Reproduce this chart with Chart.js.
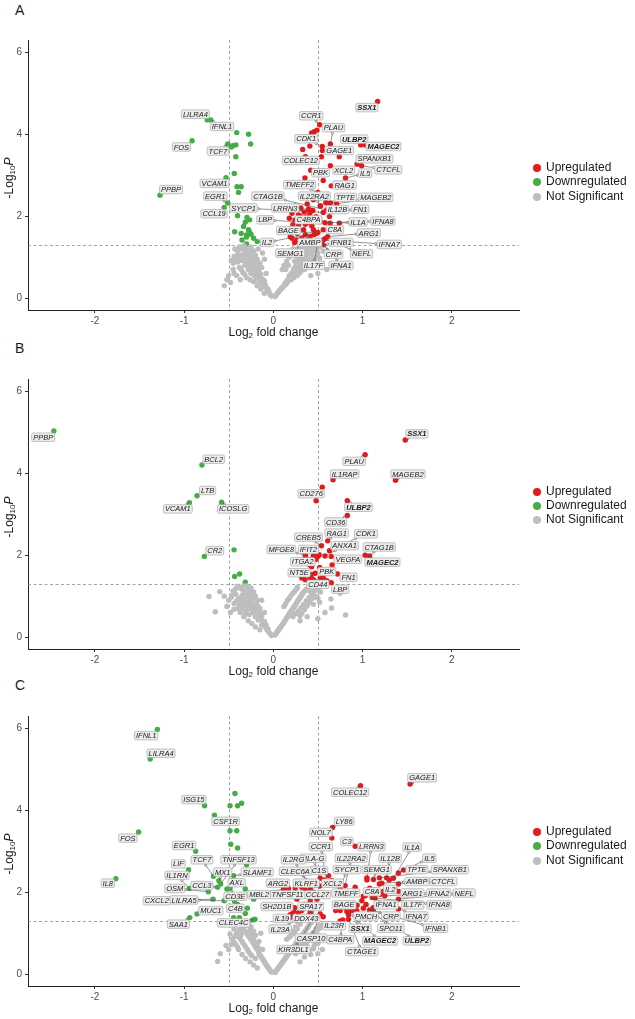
<!DOCTYPE html>
<html>
<head>
<meta charset="utf-8">
<script src="https://cdn.jsdelivr.net/npm/chart.js@4.4.1/dist/chart.umd.min.js"></script>
<style>
  body { margin: 0; background: #fff; width: 635px; height: 1019px; position: relative; overflow: hidden;
         font-family: "Liberation Sans", Arial, sans-serif; color: #1a1a1a; }
  canvas { position: absolute; left: 0; }
  .tag { position: absolute; left: 15px; font-size: 14px; line-height: 14px; }
  .leg { position: absolute; left: 533px; font-size: 12px; line-height: 14px; white-space: nowrap; }
  .leg span { display: inline-block; width: 8px; height: 8px; border-radius: 50%; margin-right: 5px; vertical-align: -1px; }
</style>
</head>
<body>
<div class="tag" style="top:3px">A</div>
<div class="tag" style="top:341px">B</div>
<div class="tag" style="top:678px">C</div>
<canvas id="chartA" width="635" height="339" style="top:0px"></canvas>
<canvas id="chartB" width="635" height="340" style="top:339px"></canvas>
<canvas id="chartC" width="635" height="343" style="top:676px"></canvas>
<script>
// axis / thresholds
const xTicks = [-2, -1, 0, 1, 2];
const yTicks = [0, 2, 4, 6];
const fcCut = 0.5;
const pCut = 1.301;   // -log10(0.05)
const boldGenes = ['SSX1', 'ULBP2', 'MAGEC2'];
const legendNames = ['Upregulated', 'Downregulated', 'Not Significant'];
const RED = '#e31a1c', GREEN = '#45ad45', GREY = '#bebebe';

// ---------- panel A : [log2FC, -log10 P] ----------
const aUpGenes = ['SSX1','CCR1','PLAU','CDK1','ULBP2','MAGEC2','GAGE1','COLEC12','SPANXB1','CTCFL',
  'XCL2','IL5','PBK','RAG1','TMEFF2','IL22RA2','TPTE','MAGEB2','IL12B','FN1',
  'IL1A','IFNA8','C4BPA','C8A','ARG1','IFNA7','BAGE','AMBP','IFNB1','SEMG1',
  'CRP','NEFL','IL17F','IFNA1','CTAG1B','LRRN3','SYCP1','LBP','IL2'];
const aUp = [[1.17,4.80],[0.52,4.23],[0.64,3.76],[0.55,3.70],[0.98,3.74],[1.03,3.74],[0.55,3.60],[0.54,3.45],[0.94,3.27],[0.99,3.23],
  [0.64,3.23],[0.81,2.93],[0.56,2.87],[0.65,2.74],[0.50,2.58],[0.53,2.25],[0.64,2.32],[0.71,2.30],[0.59,2.33],[0.66,2.12],
  [0.74,1.83],[0.58,1.84],[0.41,2.07],[0.56,1.67],[0.61,1.50],[0.56,1.42],[0.49,1.59],[0.51,1.38],[0.56,1.30],[0.38,1.42],
  [0.52,1.35],[0.58,1.45],[0.50,1.33],[0.54,1.38],[0.60,2.15],[0.40,2.17],[0.56,2.09],[0.41,1.84],[0.50,1.60]];
const aUpOther = [[0.41,3.71],[0.33,3.63],[0.36,3.45],[0.42,3.12],[0.43,4.03],[0.46,4.06],[0.49,4.10],[0.74,3.45],[0.355,2.93],[0.31,2.52],
  [0.347,2.49],[0.594,2.33],[0.526,2.25],[0.395,2.17],[0.444,2.14],[0.347,2.10],[0.21,2.07],[0.283,2.03],[0.18,1.95],[0.243,1.91],
  [0.31,1.99],[0.37,1.98],[0.48,1.99],[0.526,1.87],[0.638,1.83],[0.22,1.79],[0.283,1.79],[0.433,1.76],[0.34,1.67],[0.45,1.67],
  [0.21,1.46],[0.265,1.42],[0.32,1.46],[0.414,1.50],[0.19,1.50],[0.63,1.99],[0.46,1.55],[0.30,1.38],[0.24,1.36],[0.35,1.33],
  [0.44,1.36],[0.27,1.58],[0.36,1.80],[0.40,1.95],[0.25,2.25],[0.31,2.20],[0.38,2.30],[0.45,2.40],[0.42,2.78],[0.36,1.55]];
const aDownGenes = ['LILRA4','IFNL1','FOS','TCF7','VCAM1','PPBP','EGR1','CCL19'];
const aDown = [[-0.74,4.35],[-0.70,4.35],[-0.91,3.84],[-0.51,3.76],[-0.53,2.94],[-1.27,2.51],[-0.51,2.32],[-0.55,2.21]];
const aDownOther = [[-0.41,4.04],[-0.277,4.0],[-0.254,3.76],[-0.456,3.72],[-0.42,3.74],[-0.47,3.69],[-0.42,3.45],[-0.437,3.04],[-0.406,2.72],[-0.36,2.72],
  [-0.39,2.58],[-0.445,2.20],[-0.40,2.01],[-0.295,1.97],[-0.265,1.91],[-0.314,1.85],[-0.333,1.75],[-0.277,1.67],[-0.25,1.56],[-0.30,1.54],
  [-0.433,1.62],[-0.35,1.42],[-0.30,1.49],[-0.22,1.46],[-0.18,1.38],[-0.30,1.32],[-0.36,1.58],[-0.27,1.62]];
const aNotSig = [[-0.02,0.05],[-0.04,0.1],[-0.05,0.16],[-0.07,0.2],[-0.08,0.27],[-0.1,0.3],[-0.11,0.35],[-0.13,0.4],[-0.12,0.46],[-0.15,0.5],
  [-0.16,0.55],[-0.18,0.6],[-0.2,0.62],[-0.19,0.7],[-0.22,0.72],[-0.24,0.78],[-0.23,0.85],[-0.26,0.88],[-0.28,0.95],[-0.27,1.02],
  [-0.3,1.05],[-0.32,1.1],[-0.3,1.18],[-0.35,1.2],[-0.38,1.25],[-0.22,1.15],[-0.2,1.05],[-0.18,0.95],[-0.15,0.85],[-0.13,0.75],
  [-0.25,0.6],[-0.28,0.7],[-0.32,0.8],[-0.35,0.92],[-0.4,1.05],[-0.42,0.95],[-0.45,0.85],[-0.38,0.75],[-0.34,0.62],[-0.3,0.5],
  [-0.26,0.45],[-0.22,0.4],[-0.18,0.3],[-0.14,0.22],[-0.1,0.12],[-0.45,0.7],[-0.5,0.55],[-0.41,0.55],[-0.37,0.45],[-0.55,0.3],
  [-0.48,0.38],[-0.4,1.15],[-0.25,1.25],[-0.17,1.2],[-0.12,1.1],[-0.1,0.95],[-0.08,0.6],
  [-0.03,0.08],[-0.06,0.22],[-0.09,0.33],[-0.1,0.42],[-0.14,0.58],[-0.16,0.66],[-0.17,0.78],[-0.2,0.85],[-0.21,0.92],[-0.24,0.98],
  [-0.25,1.08],[-0.27,1.15],[-0.29,1.22],[-0.33,1.28],[-0.36,1.05],[-0.38,0.98],[-0.34,0.98],[-0.31,0.9],[-0.29,0.82],[-0.27,0.75],
  [-0.24,0.68],[-0.21,0.55],[-0.19,0.48],[-0.16,0.38],[-0.12,0.28],[-0.43,1.2],[-0.44,1.02],[-0.47,0.92],[-0.4,0.88],[-0.36,0.7],
  [-0.32,0.58],[-0.52,0.45],[-0.44,0.6],
  [0.02,0.04],[0.04,0.1],[0.06,0.15],[0.08,0.2],[0.1,0.25],[0.12,0.3],[0.13,0.36],[0.15,0.42],[0.17,0.48],[0.18,0.55],
  [0.2,0.6],[0.22,0.66],[0.23,0.72],[0.25,0.78],[0.27,0.84],[0.28,0.9],[0.3,0.96],[0.32,1.02],[0.34,1.08],[0.36,1.14],
  [0.38,1.2],[0.4,1.25],[0.25,0.6],[0.28,0.7],[0.3,0.75],[0.33,0.85],[0.36,0.92],[0.39,1.0],[0.42,1.08],[0.45,1.15],
  [0.48,1.22],[0.2,0.45],[0.23,0.5],[0.27,0.55],[0.3,0.62],[0.35,0.7],[0.4,0.8],[0.44,0.9],[0.48,1.0],[0.5,1.1],
  [0.52,1.25],[0.15,0.9],[0.18,1.0],[0.2,1.1],[0.22,1.2],[0.12,0.8],[0.1,0.7],[0.28,1.15],[0.3,1.25],[0.55,0.85],
  [0.5,0.6],[0.42,0.55],[0.6,0.7],
  [0.03,0.07],[0.05,0.13],[0.07,0.19],[0.09,0.24],[0.11,0.28],[0.14,0.33],[0.16,0.39],[0.19,0.5],[0.21,0.56],[0.24,0.62],
  [0.26,0.68],[0.29,0.8],[0.31,0.86],[0.33,0.93],[0.35,0.98],[0.37,1.05],[0.4,1.12],[0.43,1.18],[0.46,1.25],[0.32,0.68],
  [0.37,0.8],[0.41,0.92],[0.45,1.02],[0.47,0.85],[0.52,0.98],[0.25,1.05],[0.27,0.98],[0.17,0.8],[0.14,0.7],[0.35,1.2],
  [0.33,1.15],[0.24,0.9],[0.56,1.15]];

// ---------- panel B ----------
const bUpGenes = ['SSX1','PLAU','IL1RAP','MAGEB2','CD276','ULBP2','CD36','RAG1','CDK1','CREB5','ANXA1',
  'CTAG1B','MAGEC2','MFGE8','IFIT2','VEGFA','ITGA2','PBK','FN1','NT5E','CD44','LBP'];
const bUp = [[1.48,4.81],[1.03,4.45],[0.67,3.84],[1.37,3.83],[0.48,3.33],[0.83,3.33],[0.83,2.97],[0.61,2.35],[0.63,2.11],[0.54,2.23],[0.58,1.98],
  [1.08,1.98],[1.03,2.00],[0.36,2.00],[0.50,1.97],[0.65,1.97],[0.41,1.76],[0.66,1.76],[0.72,1.54],[0.47,1.56],[0.56,1.45],[0.65,1.33]];
const bUpOther = [[0.549,3.66],[0.515,2.01],[0.405,1.89],[0.44,1.80],[0.43,1.52],[0.526,1.44],[0.45,1.40],[0.32,1.44],[0.358,1.40],[0.405,1.38],
  [0.395,1.80],[0.43,1.72],[0.34,1.50],[0.414,1.44],[0.45,1.98],[0.52,1.70],[0.38,1.60],[0.48,1.90],[0.36,1.95],[0.55,1.55],
  [0.47,1.35],[0.60,1.38]];
const bDownGenes = ['PPBP','BCL2','LTB','VCAM1','ICOSLG','CR2'];
const bDown = [[-2.46,5.03],[-0.80,4.20],[-0.855,3.45],[-0.94,3.28],[-0.58,3.29],[-0.773,1.97]];
const bDownOther = [[-0.44,2.13],[-0.433,1.48],[-0.377,1.54],[-0.314,1.34]];
const bNotSig = [[-0.02,0.04],[-0.05,0.12],[-0.07,0.18],[-0.09,0.25],[-0.11,0.32],[-0.12,0.4],[-0.14,0.46],[-0.16,0.52],[-0.18,0.58],[-0.2,0.65],
  [-0.21,0.72],[-0.23,0.8],[-0.25,0.86],[-0.27,0.93],[-0.29,1.0],[-0.31,1.06],[-0.33,1.12],[-0.36,1.18],[-0.4,1.24],[-0.18,0.9],
  [-0.2,1.0],[-0.22,1.1],[-0.25,1.2],[-0.15,0.7],[-0.27,0.55],[-0.3,0.65],[-0.33,0.75],[-0.36,0.85],[-0.39,0.95],[-0.42,1.05],
  [-0.45,1.12],[-0.47,0.98],[-0.44,0.82],[-0.4,0.7],[-0.37,0.6],[-0.33,0.5],[-0.28,0.4],[-0.24,0.33],[-0.2,0.25],[-0.15,0.18],
  [-0.5,0.9],[-0.52,0.75],[-0.48,0.6],[-0.72,0.99],[-0.65,0.62],[-0.60,1.11],[-0.55,1.0],[-0.13,0.9],[-0.1,0.6],[-0.3,1.25],
  [-0.03,0.08],[-0.06,0.2],[-0.08,0.3],[-0.1,0.38],[-0.13,0.52],[-0.15,0.6],[-0.17,0.75],[-0.19,0.82],[-0.22,0.95],[-0.24,1.05],
  [-0.27,1.12],[-0.28,1.2],[-0.34,1.25],[-0.35,1.02],[-0.37,0.95],[-0.33,0.92],[-0.3,0.85],[-0.28,0.77],[-0.25,0.7],[-0.23,0.6],
  [-0.2,0.5],[-0.17,0.42],[-0.13,0.3],[-0.42,1.18],[-0.46,1.02],[-0.41,0.88],[-0.38,0.78],[-0.35,0.68],[-0.31,0.58],[-0.44,0.68],
  [0.02,0.05],[0.04,0.12],[0.06,0.18],[0.08,0.24],[0.1,0.3],[0.12,0.36],[0.14,0.43],[0.16,0.5],[0.18,0.57],[0.2,0.63],
  [0.22,0.7],[0.24,0.76],[0.26,0.83],[0.28,0.9],[0.3,0.97],[0.32,1.04],[0.34,1.1],[0.37,1.17],[0.4,1.24],[0.43,1.28],
  [0.22,0.5],[0.25,0.57],[0.28,0.64],[0.31,0.72],[0.34,0.8],[0.37,0.88],[0.4,0.96],[0.43,1.04],[0.46,1.12],[0.49,1.2],
  [0.16,0.9],[0.2,1.02],[0.24,1.12],[0.27,1.22],[0.12,0.75],[0.45,0.8],[0.5,0.95],[0.53,1.1],[0.55,1.25],[0.646,0.93],
  [0.654,0.71],[0.81,0.54],[0.75,1.07],[0.58,0.6],[0.5,0.45],[0.38,0.5],[0.3,0.4],
  [0.03,0.08],[0.05,0.15],[0.07,0.21],[0.09,0.27],[0.11,0.33],[0.13,0.4],[0.15,0.47],[0.17,0.53],[0.19,0.6],[0.21,0.66],
  [0.23,0.73],[0.25,0.8],[0.27,0.87],[0.29,0.93],[0.31,1.0],[0.33,1.07],[0.36,1.13],[0.39,1.2],[0.42,1.1],[0.44,0.95],
  [0.41,0.85],[0.38,0.76],[0.35,0.67],[0.32,0.58],[0.3,0.52],[0.18,0.95],[0.22,1.07],[0.26,1.17],[0.14,0.82],[0.47,1.0],
  [0.5,1.15],[0.52,0.85]];

// ---------- panel C ----------
const cUpGenes = ['GAGE1','COLEC12','LY86','NOL7','CCR1','C3','LRRN3','IL1A','IL5','IL12B',
  'IL22RA2','HLA-G','SYCP1','SEMG1','TPTE','SPANXB1','C1S','XCL2','AMBP','CTCFL',
  'TMEFF','C8A','IL2','ARG1','IFNA2','NEFL','BAGE','IFNA1','IL17F','IFNA8',
  'PMCH','CRP','IFNA7','IFNB1','SSX1','SPO11','MAGEC2','ULBP2','IL23R','C4BPA',
  'CTAGE1','CASP10','KIR3DL1','IL23A','IL19','DDX43','SH2D1B','SPA17','ARG2','KLRF1',
  'CLEC6A','IL2RG','CCL27','TNFSF11','MBL2'];
const cUp = [[1.534,4.64],[0.978,4.60],[0.664,3.58],[0.657,3.32],[0.60,2.24],[0.918,3.12],[1.05,2.35],[1.347,2.34],[1.403,2.47],[1.27,2.35],
  [0.806,2.16],[0.526,2.34],[0.75,2.08],[1.123,2.31],[1.46,2.54],[1.19,2.35],[0.47,2.53],[0.414,2.08],[1.217,2.22],[1.403,2.20],
  [0.918,2.12],[1.14,2.05],[1.233,2.02],[1.403,2.02],[1.25,1.91],[1.403,1.83],[0.75,1.55],[1.08,1.56],[1.403,1.59],[1.14,1.86],
  [0.937,1.55],[1.12,1.56],[1.11,1.87],[1.01,1.61],[0.862,1.55],[0.993,1.79],[0.825,1.53],[1.10,1.50],[0.75,1.30],[0.78,1.32],
  [0.843,1.34],[0.526,1.47],[0.433,1.30],[0.414,1.51],[0.19,1.38],[0.283,1.38],[0.227,1.53],[0.47,1.38],[0.134,2.24],[0.32,2.12],
  [0.47,2.20],[0.45,2.00],[0.49,1.83],[0.17,2.09],[0.115,2.08]];
const cUpOther = [[1.05,2.30],[1.19,2.20],[1.30,2.30],[1.36,2.10],[1.08,2.10],[1.20,1.95],[1.01,1.90],[1.04,1.70],[0.94,1.68],[0.88,1.62],
  [0.315,2.53],[0.57,2.30],[0.657,2.28],[0.246,2.10],[0.414,2.20],[0.30,1.96],[0.265,1.83],[0.414,1.79],[0.49,1.95],[0.32,1.55],
  [0.377,1.38],[0.283,1.50],[0.19,1.45],[0.265,1.30],[0.56,1.40],[0.806,1.63],[0.70,1.55],[0.90,1.55],[0.843,1.45],[1.12,1.62],
  [1.03,1.91],[0.36,2.05],[0.22,1.95],[0.15,2.16],[0.52,2.15],[0.62,2.40],[0.40,1.62],[0.24,1.62],[0.35,1.70]];
const cDownGenes = ['IFNL1','LILRA4','ISG15','CSF1R','FOS','EGR1','TCF7','TNFSF13','LIF','MX1',
  'SLAMF1','IL1RN','IL8','CCL3','AXL','OSM','CD3E','CXCL2','LILRA5','C4B','MUC1','SAA1','CLEC4C'];
const cDown = [[-1.30,5.97],[-1.38,5.25],[-0.77,4.11],[-0.66,3.88],[-1.51,3.47],[-0.87,3.00],[-0.67,2.39],[-0.59,2.20],[-0.95,2.55],[-0.61,2.28],
  [-0.445,2.40],[-0.94,2.09],[-1.765,2.33],[-0.624,2.12],[-0.52,2.08],[-0.728,2.01],[-0.485,2.10],[-0.675,1.83],[-0.55,1.79],[-0.433,1.77],
  [-0.855,1.47],[-0.936,1.38],[-0.205,1.34]];
const cDownOther = [[-0.43,4.41],[-0.485,4.11],[-0.40,4.11],[-0.355,4.17],[-0.485,3.50],[-0.41,3.50],[-0.477,3.17],[-0.40,3.08],[-0.30,2.67],[-0.314,2.08],
  [-0.29,1.61],[-0.314,1.48],[-0.22,1.83],[-0.445,1.38],[-0.38,1.38],[-0.23,1.32],[-0.50,1.95],[-0.40,1.70]];
const cNotSig = [[-0.02,0.05],[-0.04,0.1],[-0.06,0.17],[-0.08,0.23],[-0.1,0.3],[-0.12,0.37],[-0.14,0.44],[-0.16,0.5],[-0.17,0.57],[-0.19,0.63],
  [-0.21,0.7],[-0.23,0.77],[-0.25,0.84],[-0.27,0.9],[-0.29,0.97],[-0.31,1.04],[-0.33,1.1],[-0.35,1.17],[-0.38,1.23],[-0.2,0.95],
  [-0.22,1.05],[-0.25,1.15],[-0.28,1.25],[-0.16,0.8],[-0.26,0.5],[-0.29,0.6],[-0.32,0.7],[-0.35,0.8],[-0.38,0.9],[-0.41,1.0],
  [-0.44,1.1],[-0.485,0.98],[-0.46,0.85],[-0.42,0.72],[-0.39,0.6],[-0.35,0.48],[-0.31,0.38],[-0.26,0.3],[-0.22,0.22],[-0.18,0.15],
  [-0.594,0.50],[-0.624,0.31],[-0.53,0.7],[-0.5,0.6],[-0.14,1.0],[-0.12,0.6],
  [-0.03,0.08],[-0.05,0.14],[-0.07,0.2],[-0.09,0.27],[-0.11,0.34],[-0.13,0.4],[-0.15,0.47],[-0.16,0.62],[-0.18,0.7],[-0.2,0.77],
  [-0.22,0.88],[-0.24,0.98],[-0.26,1.08],[-0.27,1.18],[-0.3,1.2],[-0.33,1.22],[-0.34,1.04],[-0.36,0.96],[-0.37,0.86],[-0.34,0.76],
  [-0.31,0.66],[-0.28,0.55],[-0.24,0.45],[-0.2,0.38],[-0.43,0.92],[-0.44,0.78],[-0.4,0.66],[-0.47,0.72],[-0.45,1.2],[-0.38,1.08],
  [0.02,0.04],[0.04,0.1],[0.06,0.16],[0.08,0.22],[0.1,0.28],[0.12,0.34],[0.14,0.4],[0.16,0.46],[0.18,0.52],[0.2,0.58],
  [0.22,0.64],[0.24,0.7],[0.26,0.76],[0.28,0.82],[0.3,0.88],[0.32,0.94],[0.34,1.0],[0.36,1.06],[0.38,1.12],[0.4,1.18],
  [0.42,1.24],[0.25,0.5],[0.28,0.55],[0.31,0.62],[0.34,0.68],[0.37,0.75],[0.4,0.82],[0.43,0.9],[0.46,0.97],[0.49,1.05],
  [0.52,1.12],[0.55,1.2],[0.2,0.95],[0.22,1.05],[0.25,1.15],[0.3,1.22],[0.15,0.85],[0.45,0.62],[0.5,0.75],[0.55,0.88],
  [0.35,0.42],[0.42,0.48],[0.3,0.3],[0.5,0.5],[0.55,0.6],
  [0.03,0.07],[0.05,0.13],[0.07,0.19],[0.09,0.25],[0.11,0.31],[0.13,0.37],[0.15,0.43],[0.17,0.49],[0.19,0.55],[0.21,0.61],
  [0.23,0.67],[0.25,0.73],[0.27,0.79],[0.29,0.85],[0.31,0.91],[0.33,0.97],[0.35,1.03],[0.37,1.09],[0.39,1.15],[0.33,0.72],
  [0.36,0.8],[0.39,0.88],[0.42,0.95],[0.45,1.02],[0.48,1.1],[0.51,1.18],[0.27,0.6],[0.3,0.68],[0.24,1.0],[0.27,1.1],
  [0.18,0.9],[0.47,0.82],[0.52,0.92],[0.4,0.56],[0.46,0.7]];

// ---------- label placement (layout, data units) ----------
const aUpLabelAt = [[1.05,4.65],[0.425,4.45],[0.675,4.16],[0.37,3.89],[0.907,3.88],[1.235,3.70],[0.74,3.60],[0.31,3.36],[1.135,3.40],[1.29,3.13],
  [0.79,3.12],[1.03,3.05],[0.53,3.06],[0.80,2.76],[0.295,2.77],[0.46,2.49],[0.81,2.46],[1.15,2.46],[0.72,2.16],[0.975,2.17],
  [0.95,1.86],[1.23,1.88],[0.395,1.91],[0.69,1.67],[1.07,1.59],[1.30,1.31],[0.17,1.65],[0.41,1.36],[0.76,1.36],[0.19,1.10],
  [0.675,1.07],[0.99,1.08],[0.45,0.80],[0.76,0.80],[-0.06,2.49],[0.134,2.20],[-0.333,2.20],[-0.09,1.91],[-0.07,1.36]];
const aDownLabelAt = [[-0.873,4.49],[-0.575,4.19],[-1.03,3.69],[-0.62,3.59],[-0.66,2.80],[-1.146,2.65],[-0.65,2.49],[-0.664,2.06]];
const bUpLabelAt = [[1.61,4.96],[0.907,4.29],[0.80,3.98],[1.51,3.98],[0.425,3.50],[0.955,3.17],[0.70,2.81],[0.71,2.54],[1.04,2.52],[0.395,2.44],[0.80,2.23],
  [1.187,2.20],[1.224,1.83],[0.09,2.14],[0.395,2.14],[0.836,1.90],[0.33,1.84],[0.60,1.60],[0.843,1.46],[0.29,1.57],[0.50,1.29],[0.75,1.17]];
const bDownLabelAt = [[-2.58,4.88],[-0.668,4.34],[-0.736,3.58],[-1.07,3.13],[-0.45,3.13],[-0.656,2.11]];
const cUpLabelAt = [[1.669,4.79],[0.862,4.44],[0.795,3.73],[0.534,3.46],[0.534,3.11],[0.825,3.24],[1.10,3.11],[1.556,3.10],[1.75,2.83],[1.31,2.83],
  [0.873,2.83],[0.445,2.83],[0.825,2.55],[1.16,2.55],[1.61,2.55],[1.98,2.55],[0.512,2.53],[0.664,2.22],[1.61,2.26],[1.908,2.26],
  [0.814,1.98],[1.108,2.01],[1.31,2.07],[1.56,1.98],[1.855,1.98],[2.14,1.98],[0.795,1.69],[1.265,1.69],[1.564,1.69],[1.86,1.69],
  [1.04,1.42],[1.318,1.42],[1.60,1.42],[1.82,1.12],[0.974,1.12],[1.318,1.12],[1.198,0.81],[1.61,0.81],[0.683,1.18],[0.75,0.84],
  [0.993,0.55],[0.422,0.88],[0.227,0.60],[0.078,1.10],[0.097,1.36],[0.37,1.36],[0.041,1.65],[0.42,1.65],[0.052,2.22],[0.37,2.22],
  [0.246,2.51],[0.227,2.79],[0.496,1.94],[0.16,1.94],[-0.16,1.94]];
const cDownLabelAt = [[-1.425,5.82],[-1.258,5.39],[-0.89,4.26],[-0.535,3.73],[-1.63,3.32],[-1.0,3.14],[-0.80,2.79],[-0.39,2.79],[-1.064,2.69],[-0.568,2.49],
  [-0.18,2.49],[-1.08,2.41],[-1.855,2.22],[-0.80,2.16],[-0.41,2.23],[-1.105,2.09],[-0.425,1.90],[-1.306,1.79],[-1.0,1.81],[-0.425,1.61],
  [-0.70,1.55],[-1.064,1.22],[-0.445,1.25]];

const PLOT_LEFT = 28, PLOT_RIGHT = 519, PLOT_TOP = 40, PLOT_BOTTOM = 310;

// dashed threshold lines
const refLines = {
  id: 'refLines',
  beforeDatasetsDraw(chart) {
    const { ctx, chartArea: a, scales: { x, y } } = chart;
    ctx.save();
    ctx.strokeStyle = '#8c8c8c';
    ctx.lineWidth = 0.8;
    ctx.setLineDash([3, 2.5]);
    [-fcCut, fcCut].forEach(v => {
      const px = Math.round(x.getPixelForValue(v)) + 0.5;
      ctx.beginPath(); ctx.moveTo(px, a.top); ctx.lineTo(px, a.bottom); ctx.stroke();
    });
    const py = Math.round(y.getPixelForValue(pCut)) + 0.5;
    ctx.beginPath(); ctx.moveTo(a.left, py); ctx.lineTo(a.right, py); ctx.stroke();
    ctx.restore();
  }
};

// gene labels with boxes and connector segments
const geneLabels = {
  id: 'geneLabels',
  afterDatasetsDraw(chart, args, opts) {
    const { ctx, scales: { x, y } } = chart;
    const h = 8.5;
    ctx.save();
    const boxes = (opts.items || []).map(it => {
      const bold = boldGenes.includes(it.g);
      const font = (bold ? 'italic bold ' : 'italic ') + '7.5px "Liberation Sans", Arial, sans-serif';
      ctx.font = font;
      return {
        g: it.g, font, w: ctx.measureText(it.g).width + 3,
        cx: x.getPixelForValue(it.lx), cy: y.getPixelForValue(it.ly),
        px: x.getPixelForValue(it.x), py: y.getPixelForValue(it.y)
      };
    });
    ctx.strokeStyle = '#4d4d4d';
    ctx.lineWidth = 0.6;
    boxes.forEach(b => {
      const dx = b.px - b.cx, dy = b.py - b.cy;
      if (Math.abs(dx) <= b.w / 2 + 1 && Math.abs(dy) <= h / 2 + 1) return;
      const t = Math.min(dx ? (b.w / 2) / Math.abs(dx) : Infinity, dy ? (h / 2) / Math.abs(dy) : Infinity);
      const ex = b.cx + dx * t, ey = b.cy + dy * t;
      const len = Math.hypot(b.px - ex, b.py - ey);
      if (len < 4) return;
      const ux = (b.px - ex) / len, uy = (b.py - ey) / len;
      ctx.beginPath();
      ctx.moveTo(ex + ux * 2.4, ey + uy * 2.4);
      ctx.lineTo(b.px - ux * 1.2, b.py - uy * 1.2);
      ctx.stroke();
      ctx.beginPath();
      ctx.arc(ex + ux * 1.3, ey + uy * 1.3, 1.1, 0, Math.PI * 2);
      ctx.stroke();
    });
    boxes.forEach(b => {
      const bx = b.cx - b.w / 2, by = b.cy - h / 2;
      ctx.beginPath();
      if (ctx.roundRect) ctx.roundRect(bx, by, b.w, h, 1.5); else ctx.rect(bx, by, b.w, h);
      ctx.fillStyle = '#ececec';
      ctx.fill();
      ctx.strokeStyle = '#9e9e9e';
      ctx.lineWidth = 0.6;
      ctx.stroke();
      ctx.font = b.font;
      ctx.fillStyle = '#1a1a1a';
      ctx.textAlign = 'center';
      ctx.textBaseline = 'middle';
      ctx.fillText(b.g, b.cx, b.cy + 0.5);
    });
    ctx.restore();
  }
};

function drawParts(ctx, parts) {
  let total = 0;
  parts.forEach(p => { ctx.font = p[1]; p.w = ctx.measureText(p[0]).width; total += p.w; });
  let cur = -total / 2;
  parts.forEach(p => { ctx.font = p[1]; ctx.fillText(p[0], cur, p[2]); cur += p.w; });
}

// axis titles with subscripts
const axisTitles = {
  id: 'axisTitles',
  afterDraw(chart) {
    const { ctx, chartArea: a } = chart;
    const f = '"Liberation Sans", Arial, sans-serif';
    ctx.save();
    ctx.fillStyle = '#1a1a1a';
    ctx.textAlign = 'left';
    ctx.textBaseline = 'middle';
    ctx.translate((a.left + a.right) / 2, a.bottom + 23);
    drawParts(ctx, [['Log', '12px ' + f, 0], ['2', '8px ' + f, 3], [' fold change', '12px ' + f, 0]]);
    ctx.restore();
    ctx.save();
    ctx.fillStyle = '#1a1a1a';
    ctx.textAlign = 'left';
    ctx.textBaseline = 'middle';
    ctx.translate(10, (a.top + a.bottom) / 2 + 3);
    ctx.rotate(-Math.PI / 2);
    drawParts(ctx, [['-Log', '12px ' + f, 0], ['10', '8px ' + f, 3], ['P', 'italic 12px ' + f, 0]]);
    ctx.restore();
  }
};

function labelItems(genes, vals, at) {
  return genes.map((g, i) => ({ g, x: vals[i][0], y: vals[i][1], lx: at[i][0], ly: at[i][1] }));
}

function makePanel(id, ns, down, downOther, up, upOther, items) {
  const canvas = document.getElementById(id);
  const H = canvas.height;
  const pts = arr => arr.map(p => ({ x: p[0], y: p[1] }));
  const tickCfg = { font: { size: 10, family: '"Liberation Sans", Arial, sans-serif' }, color: '#4d4d4d', maxRotation: 0 };
  new Chart(canvas, {
    type: 'scatter',
    data: {
      datasets: [
        { label: legendNames[2], data: pts(ns), backgroundColor: GREY },
        { label: legendNames[1], data: pts(downOther.concat(down)), backgroundColor: GREEN },
        { label: legendNames[0], data: pts(upOther.concat(up)), backgroundColor: RED }
      ]
    },
    options: {
      responsive: false,
      animation: false,
      events: [],
      layout: { padding: { left: 0, right: canvas.width - PLOT_RIGHT, top: PLOT_TOP, bottom: 0 } },
      elements: { point: { radius: 2.7, borderWidth: 0, hoverRadius: 2.7 } },
      plugins: {
        legend: { display: false },
        tooltip: { enabled: false },
        geneLabels: { items }
      },
      scales: {
        x: {
          type: 'linear', min: -2.75, max: 2.755,
          afterBuildTicks: s => { s.ticks = xTicks.map(v => ({ value: v })); },
          afterFit: s => { s.height = H - PLOT_BOTTOM; },
          grid: { drawOnChartArea: false, drawTicks: true, tickLength: 3, color: '#333' },
          border: { color: '#222', width: 1 },
          ticks: Object.assign({ padding: 2 }, tickCfg)
        },
        y: {
          type: 'linear', min: -0.29, max: 6.3,
          afterBuildTicks: s => { s.ticks = yTicks.map(v => ({ value: v })); },
          afterFit: s => { s.width = PLOT_LEFT; },
          grid: { drawOnChartArea: false, drawTicks: true, tickLength: 3, color: '#333' },
          border: { color: '#222', width: 1 },
          ticks: Object.assign({ padding: 3 }, tickCfg)
        }
      }
    },
    plugins: [refLines, geneLabels, axisTitles]
  });
}

makePanel('chartA', aNotSig, aDown, aDownOther, aUp, aUpOther,
  labelItems(aUpGenes, aUp, aUpLabelAt).concat(labelItems(aDownGenes, aDown, aDownLabelAt)));
makePanel('chartB', bNotSig, bDown, bDownOther, bUp, bUpOther,
  labelItems(bUpGenes, bUp, bUpLabelAt).concat(labelItems(bDownGenes, bDown, bDownLabelAt)));
makePanel('chartC', cNotSig, cDown, cDownOther, cUp, cUpOther,
  labelItems(cUpGenes, cUp, cUpLabelAt).concat(labelItems(cDownGenes, cDown, cDownLabelAt)));

// legends (one per panel)
const legendTops = [167, 490.5, 831];
const legendColors = [RED, GREEN, GREY];
legendTops.forEach(top => {
  legendNames.forEach((name, i) => {
    const div = document.createElement('div');
    div.className = 'leg';
    div.style.top = (top + i * 14.3 - 7) + 'px';
    div.innerHTML = '<span style="background:' + legendColors[i] + '"></span>' + name;
    document.body.appendChild(div);
  });
});
</script>
</body>
</html>
